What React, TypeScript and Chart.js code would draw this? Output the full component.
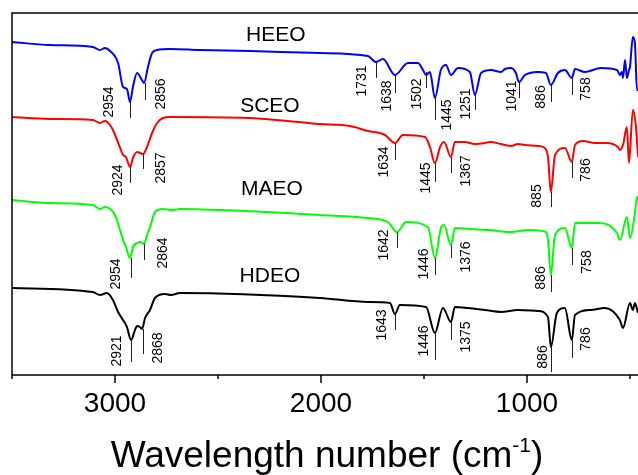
import React, { useEffect, useRef } from "react";
import { Chart, registerables } from "chart.js";

Chart.register(...registerables);

const FONT = '"Liberation Sans", Arial, Helvetica, sans-serif';

// wavenumber (cm-1), offset transmittance (arb. units)
const heeo: [number, number][] = [
  [3500, 333], [3316, 330], [3107, 328], [3073, 325], [3049, 327], [3024, 324], [2985, 312], [2961, 288],
  [2942, 286], [2927, 273], [2913, 288], [2893, 302], [2869, 295], [2859, 292], [2840, 308], [2820, 322],
  [2796, 325], [2733, 326], [2587, 325], [2345, 324], [2005, 322], [1772, 319], [1733, 313], [1699, 316],
  [1641, 300], [1578, 312], [1529, 312], [1505, 305], [1490, 300], [1471, 303], [1447, 277], [1418, 305],
  [1393, 310], [1369, 300], [1335, 307], [1277, 303], [1253, 280], [1223, 302], [1175, 305], [1126, 303],
  [1107, 306], [1078, 307], [1054, 302], [1039, 293], [1010, 300], [986, 302], [947, 303], [908, 302],
  [884, 290], [850, 302], [816, 305], [782, 297], [767, 306], [719, 303], [641, 307], [563, 305],
  [549, 300], [539, 303], [534, 297], [524, 315], [515, 297], [505, 305], [500, 308], [486, 338],
  [476, 332], [466, 285], [461, 285],
];
const sceo: [number, number][] = [
  [3500, 258], [3316, 256], [3107, 255], [3073, 252], [3049, 254], [3024, 250], [3010, 245], [2971, 225],
  [2961, 220], [2947, 218], [2927, 208], [2913, 217], [2893, 223], [2864, 221], [2845, 228], [2820, 242],
  [2796, 252], [2767, 257], [2733, 258], [2345, 257], [2005, 251], [1859, 249], [1772, 244], [1689, 240],
  [1641, 232], [1602, 240], [1495, 238], [1471, 228], [1447, 212], [1422, 228], [1403, 233], [1369, 218],
  [1350, 233], [1301, 233], [1253, 231], [1204, 232], [1180, 233], [1126, 231], [1107, 230], [1078, 229],
  [1044, 231], [1010, 230], [947, 229], [913, 227], [898, 218], [884, 183], [864, 220], [816, 227],
  [782, 213], [767, 230], [728, 234], [670, 232], [612, 232], [559, 228], [549, 225], [534, 230],
  [515, 248], [505, 212], [486, 265], [471, 248], [461, 218],
];
const maeo: [number, number][] = [
  [3500, 175], [3316, 172], [3107, 170], [3073, 166], [3049, 168], [3000, 160], [2976, 145], [2961, 135],
  [2947, 128], [2927, 117], [2913, 128], [2893, 132], [2879, 133], [2859, 131], [2845, 140], [2830, 148],
  [2806, 163], [2767, 166], [2723, 165], [2685, 166], [2369, 164], [2005, 160], [1772, 157], [1675, 153],
  [1631, 143], [1587, 153], [1481, 148], [1447, 117], [1418, 147], [1403, 150], [1369, 130], [1350, 147],
  [1277, 146], [1180, 145], [1083, 143], [986, 145], [908, 143], [898, 135], [884, 100], [864, 140],
  [816, 147], [782, 127], [767, 152], [646, 152], [563, 142], [549, 135], [515, 158], [500, 137],
  [476, 162], [466, 178], [461, 175],
];
const hdeo: [number, number][] = [
  [3500, 87], [3107, 83], [3073, 80], [3039, 82], [3010, 75], [2985, 63], [2961, 55], [2942, 48],
  [2922, 35], [2903, 45], [2893, 49], [2879, 48], [2869, 46], [2854, 57], [2830, 65], [2806, 77],
  [2757, 81], [2728, 80], [2685, 82], [2005, 77], [1772, 73], [1665, 72], [1641, 61], [1617, 70],
  [1490, 68], [1447, 42], [1408, 67], [1369, 53], [1350, 68], [1287, 67], [1204, 65], [1126, 63],
  [1044, 65], [947, 64], [898, 58], [884, 28], [855, 62], [816, 67], [782, 35], [767, 60],
  [690, 65], [622, 67], [549, 55], [534, 47], [500, 72], [486, 65], [476, 72], [461, 62],
];

const seriesNames = ["HEEO", "SCEO", "MAEO", "HDEO"];
const seriesColors = ["#0000ff", "#ff0000", "#00ff00", "#000000"];
// name label anchor (wavenumber, value)
const nameAnchors: [number, number][] = [[2219, 340], [2248, 269], [2238, 186], [2248, 99]];

const xTickMarks = [3500, 3000, 2500, 2000, 1500, 1000, 500];
const xTickLabels = [3000, 2000, 1000];

type Peak = { text: string; wn: number; y1: number; y2: number; lwn: number; ly: number };
const heeoPeaks: Peak[] = [
  { text: "2954", wn: 2927, y1: 273, y2: 257, lwn: 3034, ly: 273 },
  { text: "2856", wn: 2854, y1: 292, y2: 275, lwn: 2782, ly: 281 },
  { text: "1731", wn: 1733, y1: 313, y2: 297, lwn: 1806, ly: 294 },
  { text: "1638", wn: 1641, y1: 300, y2: 282, lwn: 1685, ly: 279 },
  { text: "1502", wn: 1490, y1: 303, y2: 287, lwn: 1539, ly: 281 },
  { text: "1445", wn: 1447, y1: 277, y2: 255, lwn: 1393, ly: 260 },
  { text: "1251", wn: 1253, y1: 280, y2: 265, lwn: 1301, ly: 271 },
  { text: "1041", wn: 1039, y1: 293, y2: 277, lwn: 1078, ly: 279 },
  { text: "886", wn: 884, y1: 290, y2: 273, lwn: 937, ly: 278 },
  { text: "758", wn: 782, y1: 297, y2: 280, lwn: 719, ly: 286 },
];
const sceoPeaks: Peak[] = [
  { text: "2924", wn: 2927, y1: 208, y2: 192, lwn: 2990, ly: 195 },
  { text: "2857", wn: 2864, y1: 221, y2: 206, lwn: 2782, ly: 207 },
  { text: "1634", wn: 1641, y1: 232, y2: 215, lwn: 1699, ly: 213 },
  { text: "1445", wn: 1447, y1: 212, y2: 193, lwn: 1495, ly: 197 },
  { text: "1367", wn: 1369, y1: 218, y2: 202, lwn: 1301, ly: 204 },
  { text: "885", wn: 884, y1: 183, y2: 168, lwn: 957, ly: 179 },
  { text: "786", wn: 782, y1: 213, y2: 197, lwn: 719, ly: 205 },
];
const maeoPeaks: Peak[] = [
  { text: "2954", wn: 2922, y1: 117, y2: 97, lwn: 3000, ly: 101 },
  { text: "2864", wn: 2859, y1: 131, y2: 115, lwn: 2772, ly: 122 },
  { text: "1642", wn: 1631, y1: 143, y2: 127, lwn: 1699, ly: 130 },
  { text: "1446", wn: 1447, y1: 117, y2: 100, lwn: 1505, ly: 111 },
  { text: "1376", wn: 1369, y1: 130, y2: 117, lwn: 1301, ly: 118 },
  { text: "886", wn: 884, y1: 100, y2: 83, lwn: 937, ly: 97 },
  { text: "758", wn: 782, y1: 127, y2: 110, lwn: 714, ly: 113 },
];
const hdeoPeaks: Peak[] = [
  { text: "2921", wn: 2922, y1: 35, y2: 13, lwn: 2995, ly: 24 },
  { text: "2868", wn: 2864, y1: 46, y2: 21, lwn: 2796, ly: 27 },
  { text: "1643", wn: 1641, y1: 61, y2: 45, lwn: 1709, ly: 50 },
  { text: "1446", wn: 1447, y1: 42, y2: 15, lwn: 1505, ly: 34 },
  { text: "1375", wn: 1369, y1: 53, y2: 35, lwn: 1301, ly: 38 },
  { text: "886", wn: 884, y1: 28, y2: 3, lwn: 927, ly: 18 },
  { text: "786", wn: 782, y1: 35, y2: 17, lwn: 719, ly: 36 },
];
const allPeaks = [heeoPeaks, sceoPeaks, maeoPeaks, hdeoPeaks];

const X_MIN = 461;
const X_MAX = 3500;

const overlayPlugin = {
  id: "overlay",
  afterDatasetsDraw(chart: any) {
    const { ctx, chartArea: a, scales } = chart;
    const x = scales.x;
    const y = scales.y;
    ctx.save();
    ctx.strokeStyle = "#000";
    ctx.lineWidth = 1.5;
    ctx.beginPath();
    ctx.moveTo(a.right + 2, a.bottom);
    ctx.lineTo(a.left, a.bottom);
    ctx.lineTo(a.left, a.top);
    ctx.lineTo(a.right + 2, a.top);
    ctx.stroke();
    for (const v of xTickMarks) {
      const px = Math.round(x.getPixelForValue(v));
      const len = v % 1000 === 0 ? 8 : 4;
      ctx.beginPath();
      ctx.moveTo(px, a.bottom);
      ctx.lineTo(px, a.bottom + len);
      ctx.stroke();
    }
    // tick labels
    ctx.fillStyle = "#000";
    ctx.textAlign = "center";
    ctx.textBaseline = "alphabetic";
    ctx.font = `28px ${FONT}`;
    for (const v of xTickLabels) {
      ctx.fillText(String(v), x.getPixelForValue(v), a.bottom + 37);
    }
    // peak annotations
    ctx.lineWidth = 1;
    ctx.strokeStyle = "#222";
    ctx.font = `14px ${FONT}`;
    ctx.textBaseline = "middle";
    for (const list of allPeaks) {
      for (const p of list) {
        const px = Math.round(x.getPixelForValue(p.wn)) + 0.5;
        ctx.beginPath();
        ctx.moveTo(px, y.getPixelForValue(p.y1));
        ctx.lineTo(px, y.getPixelForValue(p.y2));
        ctx.stroke();
        ctx.save();
        ctx.translate(x.getPixelForValue(p.lwn), y.getPixelForValue(p.ly));
        ctx.rotate(-Math.PI / 2);
        ctx.fillText(p.text, 0, 1);
        ctx.restore();
      }
    }
    // series names
    ctx.font = `21px ${FONT}`;
    seriesNames.forEach((n, i) => {
      const [wn, v] = nameAnchors[i];
      ctx.fillText(n, x.getPixelForValue(wn), y.getPixelForValue(v));
    });
    // axis title with superscript
    const main = "Wavelength number (cm";
    const sup = "-1";
    const close = ")";
    ctx.textBaseline = "alphabetic";
    ctx.textAlign = "left";
    ctx.font = `37px ${FONT}`;
    const w1 = ctx.measureText(main).width;
    const w3 = ctx.measureText(close).width;
    ctx.font = `21px ${FONT}`;
    const w2 = ctx.measureText(sup).width;
    const total = w1 + w2 + w3;
    let sx = 327 - total / 2;
    const base = 467;
    ctx.font = `37px ${FONT}`;
    ctx.fillText(main, sx, base);
    sx += w1;
    ctx.font = `21px ${FONT}`;
    ctx.fillText(sup, sx, base - 15);
    sx += w2;
    ctx.font = `37px ${FONT}`;
    ctx.fillText(close, sx, base);
    ctx.restore();
  },
};

export default function App() {
  const ref = useRef<HTMLCanvasElement | null>(null);
  useEffect(() => {
    if (!ref.current) return;
    const toPts = (arr: [number, number][]) => arr.map(([wn, t]) => ({ x: wn, y: t }));
    const datasets = [heeo, sceo, maeo, hdeo].map((d, i) => ({
      label: seriesNames[i],
      data: toPts(d),
      borderColor: seriesColors[i],
      backgroundColor: seriesColors[i],
      borderWidth: 2,
      pointRadius: 0,
      tension: 0,
      cubicInterpolationMode: "monotone" as const,
      fill: false,
    }));
    const chart = new Chart(ref.current, {
      type: "line",
      data: { datasets },
      options: {
        responsive: false,
        animation: false,
        maintainAspectRatio: false,
        layout: { padding: { left: 12, top: 13, right: 0, bottom: 0 } },
        plugins: { legend: { display: false }, tooltip: { enabled: false } },
        scales: {
          x: {
            type: "linear",
            reverse: true,
            min: X_MIN,
            max: X_MAX,
            grid: { display: false, drawTicks: false },
            border: { display: false },
            ticks: { display: false },
            afterFit: (s: any) => {
              s.height = 100;
            },
          },
          y: {
            display: false,
            min: 0,
            max: 362,
          },
        },
      },
      plugins: [overlayPlugin],
    });
    return () => chart.destroy();
  }, []);
  return (
    <div style={{ position: "fixed", left: 0, top: 0, width: 638, height: 475, overflow: "hidden", background: "#fff" }}>
      <canvas ref={ref} width={638} height={475} style={{ display: "block", width: 638, height: 475 }} />
    </div>
  );
}
